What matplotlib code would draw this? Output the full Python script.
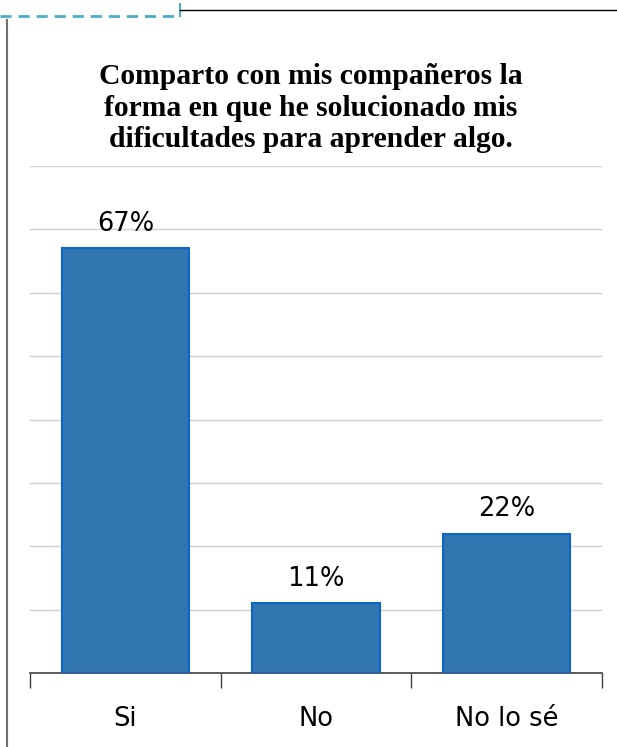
import matplotlib.pyplot as plt
from matplotlib.lines import Line2D

categories = ["Si", "No", "No lo sé"]
values = [67, 11, 22]
title = "Comparto con mis compañeros la\nforma en que he solucionado mis\ndificultades para aprender algo."

W, H = 617, 747
fig = plt.figure(figsize=(W / 100, H / 100), dpi=100)

# plot area in pixels: x 30..602, y 166..673 (0..80 %)
ax = fig.add_axes([30 / W, 1 - 673 / H, (602 - 30) / W, (673 - 166) / H])

x = range(len(categories))
ax.bar(x, values, width=0.667, color="#3176B1", edgecolor="#0A66C8", linewidth=1.5, zorder=3)
for xi, v in zip(x, values):
    ax.text(xi, v + 1.8, f"{v}%", ha="center", va="bottom", fontsize=18.5, family="DejaVu Sans")

ax.set_xlim(-0.5, 2.5)
ax.set_ylim(0, 80)
ax.set_yticks(range(10, 81, 10))
ax.tick_params(axis="y", left=False, labelleft=False)
ax.grid(axis="y", color="#D0D0D0", linewidth=1, zorder=0)

ax.set_xticks([-0.5, 0.5, 1.5, 2.5], minor=False)
ax.set_xticklabels([])
ax.set_xticks(list(x), minor=True)
ax.set_xticklabels(categories, minor=True, fontsize=18.5)
ax.tick_params(axis="x", which="major", length=11, width=1, color="#404040", direction="out")
ax.tick_params(axis="x", which="minor", length=0, pad=24)

for s in ["top", "right", "left"]:
    ax.spines[s].set_visible(False)
ax.spines["bottom"].set_color("#404040")
ax.spines["bottom"].set_linewidth(1.2)

fig.text(311 / W, 1 - 108 / H, title, ha="center", va="center", fontsize=21.3,
         fontweight="bold", family="Liberation Serif", linespacing=1.2)

# frame decorations
fig.add_artist(Line2D([0, 178 / W], [1 - 16 / H, 1 - 16 / H], color="#4BACC6",
                      linewidth=2, linestyle=(0, (4, 2.5))))
fig.add_artist(Line2D([180 / W, 180 / W], [1 - 4 / H, 1 - 16 / H], color="#4BACC6", linewidth=1.5))
fig.add_artist(Line2D([180 / W, 1], [1 - 10 / H, 1 - 10 / H], color="black", linewidth=1))
fig.add_artist(Line2D([7 / W, 7 / W], [0, 1 - 20 / H], color="#707070", linewidth=1.5))

plt.savefig("out.png", dpi=100)
